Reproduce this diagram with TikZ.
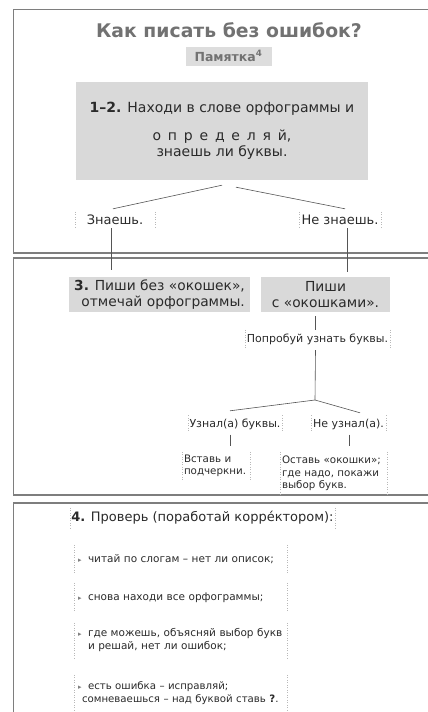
\documentclass[tikz,border=0pt]{standalone}
\usepackage{fontspec}
\setmainfont{DejaVu Sans}
\usetikzlibrary{calc}
\definecolor{ink}{HTML}{2A2A2A}
\definecolor{titlegray}{HTML}{727272}
\definecolor{boxgray}{HTML}{D9D9D9}
\definecolor{memogray}{HTML}{DDDDDD}
\definecolor{framegray}{HTML}{7E7E7E}
\definecolor{dotgray}{HTML}{B8B8B8}
\newcommand{\bul}{\makebox[10pt][l]{\textcolor{gray}{\fontsize{7}{8}\selectfont ▸}}}
\newcommand{\cont}{\hspace*{10pt}}
\tikzset{
  panel/.style={draw=framegray, line width=1.8pt},
  conn/.style={draw=ink!80, line width=0.6pt},
  dotside/.style={draw=dotgray, line width=0.5pt, dotted},
  sides/.style={append after command={\pgfextra{\let\tmpn\tikzlastnode}
      (\tmpn.north west) edge[dotside] (\tmpn.south west)
      (\tmpn.north east) edge[dotside] (\tmpn.south east)}},
  titletext/.style={text=titlegray, font=\fontsize{18.8}{22}\selectfont\bfseries, inner sep=0pt},
  memo/.style={fill=memogray, text=titlegray, font=\fontsize{12.5}{14}\selectfont\bfseries, minimum width=86pt, minimum height=19pt, inner sep=0pt},
  graybox/.style={fill=boxgray, text=ink, inner sep=0pt},
  lab/.style={sides, text=ink, inner sep=0pt, font=\fontsize{13}{15}\selectfont},
  small/.style={sides, text=ink, inner sep=0pt, font=\fontsize{11}{13}\selectfont},
  smallblock/.style={sides, text=ink, inner xsep=2pt, inner ysep=0pt, align=left, font=\fontsize{10.3}{12.5}\selectfont},
  itembox/.style={sides, text=ink, inner xsep=4pt, inner ysep=0pt, text width=205pt, align=left, font=\fontsize{10.5}{13}\selectfont},
}
\begin{document}
\begin{tikzpicture}[x=1pt,y=-1pt]
\useasboundingbox (0,0) rectangle (428,712);
\clip (0,0) rectangle (428,712);
% panels
\draw[panel] (13.5,9.5) rectangle (440,253);
\draw[panel] (13.5,258) rectangle (440,495);
\draw[panel] (13.5,503) rectangle (440,730);
% panel 1
\node[titletext] (title) at (229,30) {Как писать без ошибок?};
\node[memo] (memo) at (228.5,56) {Памятка\textsuperscript{4}};
\node[graybox, minimum width=292pt, minimum height=98pt, align=center, font=\fontsize{14}{16}\selectfont] (step12) at (222,131)
  {\textbf{1–2.} Находи в слове орфограммы и\\[12pt] о\, п\, р\, е\, д\, е\, л\, я\, й,\\ знаешь ли буквы.};
\node[lab, minimum width=80pt, minimum height=16pt] (know) at (115,220) {Знаешь.};
\node[lab, minimum width=82pt, minimum height=16pt] (dontknow) at (340,220) {Не знаешь.};
\draw[conn] ([shift={(0,5)}]step12.south) -- ([shift={(-2,-3)}]know.north);
\draw[conn] ([shift={(14,7)}]step12.south) -- ([shift={(5,-3)}]dontknow.north);
\coordinate (kend) at (111,270);
\coordinate (dkend) at (347,272);
\draw[conn] ([xshift=-4pt]know.south) -- (kend);
\draw[conn] ([xshift=7pt]dontknow.south) -- (dkend);
% panel 2
\node[graybox, minimum width=181pt, minimum height=35pt, align=right, font=\fontsize{13.8}{16}\selectfont] (step3) at (159.5,294.5)
  {\textbf{3.} Пиши без «окошек»,\\ отмечай орфограммы.};
\node[graybox, minimum width=129pt, minimum height=35pt, align=center, font=\fontsize{13.8}{16}\selectfont] (win) at (325.5,294.5)
  {Пиши\\ с «окошками».};
\node[small, minimum width=145pt, minimum height=18pt] (try) at (317.5,339) {Попробуй узнать буквы.};
\draw[conn] ([shift={(-10,4)}]win.south) -- ([xshift=-2pt]try.north);
\coordinate (fork) at (315,400);
\draw[conn] ([shift={(-2,2)}]try.south) -- (fork);
\node[small, minimum width=94pt, minimum height=17pt] (knew) at (235,424) {Узнал(а) буквы.};
\node[small, minimum width=75pt, minimum height=17pt] (notknew) at (348.5,424) {Не узнал(а).};
\draw[conn] (fork) -- ([shift={(-5,-4.5)}]knew.north);
\draw[conn] (fork) -- ([shift={(11.5,-2.5)}]notknew.north);
\node[smallblock, minimum width=68pt, minimum height=28pt, text width=64pt] (insert) at (216,466)
  {\mbox{Вставь и}\\ \mbox{подчеркни.}};
\node[smallblock, minimum width=107pt, minimum height=43pt, text width=103pt] (leave) at (333.5,473.5)
  {\mbox{Оставь «окошки»;}\\ \mbox{где надо, покажи}\\ \mbox{выбор букв.}};
\draw[conn] ([shift={(-5,2)}]knew.south) -- ([shift={(14,-6)}]insert.north);
\draw[conn] ([shift={(0.5,2)}]notknew.south) -- ([shift={(15.5,-6)}]leave.north);
% panel 3
\node[lab, minimum width=265pt, minimum height=20pt, font=\fontsize{13}{15}\selectfont] (check) at (202.5,518)
  {\textbf{4.} Проверь (поработай корре́ктором):};
\node[itembox, minimum height=28pt] (item1) at (180.5,559)
  {\mbox{\bul читай по слогам – нет ли описок;}};
\node[itembox, minimum height=29pt] (item2) at (180.5,597.5)
  {\mbox{\bul снова находи все орфограммы;}};
\node[itembox, minimum height=35pt] (item3) at (180.5,640.5)
  {\mbox{\bul где можешь, объясняй выбор букв}\\ \mbox{\cont и решай, нет ли ошибок;}};
\node[itembox, minimum height=37pt, font=\fontsize{10.2}{13}\selectfont] (item4) at (180.5,693.5)
  {\mbox{\bul есть ошибка – исправляй;}\\ \mbox{\hspace*{4pt}сомневаешься – над буквой ставь \textbf{?}.}};
\end{tikzpicture}
\end{document}
